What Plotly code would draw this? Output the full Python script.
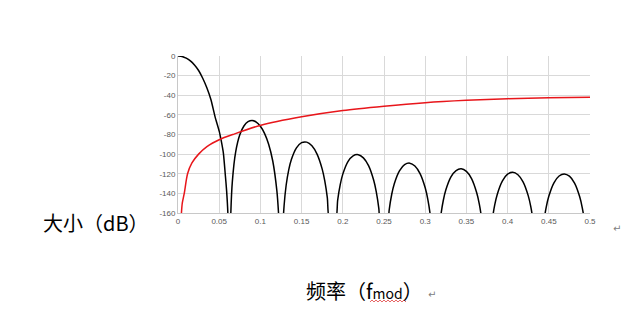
import plotly.graph_objects as go

# ---- data ----
freq_black = [
    0, 0.005, 0.01, 0.015, 0.02, 0.025, 0.03, 0.035, 0.04, 0.045, 0.05, 0.0525, 0.055, 0.0575, 0.059, 0.0605, 0.0625,
    0.064, 0.066, 0.07, 0.075, 0.08, 0.085, 0.09, 0.095, 0.1, 0.105, 0.11, 0.115, 0.12, 0.122, 0.123, 0.125,
    0.12688, 0.12875, 0.13125, 0.134375, 0.1375, 0.14375, 0.15, 0.15625, 0.1625, 0.16875, 0.175, 0.178125, 0.18125, 0.18375,
    0.19125, 0.19375, 0.196875, 0.2, 0.20625, 0.2125, 0.21875, 0.225, 0.23125, 0.2375, 0.240625, 0.24375, 0.24625,
    0.25375, 0.25625, 0.259375, 0.2625, 0.26875, 0.275, 0.28125, 0.2875, 0.29375, 0.3, 0.303125, 0.30625, 0.30875,
    0.31625, 0.31875, 0.321875, 0.325, 0.33125, 0.3375, 0.34375, 0.35, 0.35625, 0.3625, 0.365625, 0.36875, 0.37125,
    0.37875, 0.38125, 0.384375, 0.3875, 0.39375, 0.4, 0.40625, 0.4125, 0.41875, 0.425, 0.428125, 0.43125, 0.43375,
    0.44125, 0.44375, 0.446875, 0.45, 0.45625, 0.4625, 0.46875, 0.475, 0.48125, 0.4875, 0.490625, 0.49375, 0.49625, 0.5,
]
db_black = [
    0, -0.5, -2.2, -5.0, -9.2, -14.8, -22.7, -32.4, -44.6, -62.0, -76.5, -86.5, -98.5, -122.0, -137.5, -160.0, -250,
    -162.8, -127.5, -97.7, -80.3, -71.3, -66.9, -65.7, -67.3, -71.6, -78.8, -89.9, -107.0, -137.4, -160.0, -177.9, -250,
    -181.9, -152.6, -131.7, -116.0, -105.7, -93.6, -88.3, -87.8, -91.5, -100.0, -115.3, -127.2, -144.6, -166.8,
    -168.3, -147.1, -131.0, -120.4, -107.6, -101.7, -100.6, -103.8, -111.8, -126.7, -138.4, -155.5, -177.6,
    -178.6, -157.2, -140.9, -130.1, -117.0, -110.7, -109.2, -112.1, -119.8, -134.3, -145.8, -162.8, -184.8,
    -185.4, -164.0, -147.5, -136.6, -123.2, -116.7, -115.0, -117.6, -125.0, -139.4, -150.7, -167.6, -189.5,
    -189.9, -168.3, -151.8, -140.8, -127.2, -120.4, -118.5, -121.0, -128.2, -142.3, -153.6, -170.4, -192.2,
    -192.4, -170.8, -154.1, -143.0, -129.2, -122.3, -120.2, -122.5, -129.5, -143.5, -154.7, -171.4, -193.1, -250,
]

freq_red = [0.0038, 0.0052, 0.0076, 0.0116, 0.0169, 0.025, 0.0351, 0.0512, 0.0665, 0.0996,
            0.15, 0.2, 0.25, 0.3, 0.35, 0.4, 0.45, 0.5]
db_red = [-165, -150, -140, -120, -109, -100, -92.3, -84.8, -80, -70.8,
          -62, -55.6, -51.2, -47.6, -45.2, -43.5, -42.5, -42.1]

x_tickvals = [0, 0.05, 0.1, 0.15, 0.2, 0.25, 0.3, 0.35, 0.4, 0.45, 0.5]
x_ticktext = ["0", "0.05", "0.1", "0.15", "0.2", "0.25", "0.3", "0.35", "0.4", "0.45", "0.5"]
y_tickvals = [0, -20, -40, -60, -80, -100, -120, -140, -160]
y_ticktext = ["0", "-20", "-40", "-60", "-80", "-100", "-120", "-140", "-160"]

y_title = "大小（dB）"
x_title = "频率（f<span style=\"font-size:14px\">mod</span>）"

# ---- figure ----
W, H = 642, 314
ML, MR, MT, MB = 178, 52, 56, 101
pw, ph = W - ML - MR, H - MT - MB


def px(xp):
    return (xp - ML) / pw


def py(yp):
    return (H - MB - yp) / ph


fig = go.Figure()
fig.add_trace(go.Scatter(x=freq_black, y=db_black, mode="lines",
                         line=dict(color="#000000", width=1.5, shape="spline", smoothing=0.6),
                         hoverinfo="skip", showlegend=False))
fig.add_trace(go.Scatter(x=freq_red, y=db_red, mode="lines",
                         line=dict(color="#e8161b", width=1.5, shape="spline", smoothing=0.8),
                         hoverinfo="skip", showlegend=False))

tick_font = dict(family="Liberation Sans, Arial, sans-serif", size=8, color="#595959")
fig.update_xaxes(range=[0, 0.5], tickmode="array", tickvals=x_tickvals, ticktext=x_ticktext,
                 showgrid=True, gridcolor="#d9d9d9", gridwidth=1, zeroline=False,
                 showline=True, linecolor="#c8c8c8", linewidth=1, ticks="", tickfont=tick_font,
                 fixedrange=True)
fig.update_yaxes(range=[-160, 0], tickmode="array", tickvals=y_tickvals, ticktext=y_ticktext,
                 showgrid=True, gridcolor="#d9d9d9", gridwidth=1, zeroline=False,
                 showline=True, linecolor="#c8c8c8", linewidth=1, ticks="", tickfont=tick_font,
                 fixedrange=True)

cjk = "Noto Sans CJK SC, sans-serif"
annotations = [
    dict(text=y_title, x=px(151), y=py(222), xanchor="right", yanchor="middle",
         font=dict(family=cjk, size=20, color="#000000")),
    dict(text=x_title, x=px(304), y=py(290), xanchor="left", yanchor="middle",
         font=dict(family=cjk, size=20, color="#000000")),
    dict(text="↵", x=px(617), y=py(228), xanchor="center", yanchor="middle",
         font=dict(family="DejaVu Sans, sans-serif", size=10, color="#808080")),
    dict(text="↵", x=px(432), y=py(294), xanchor="center", yanchor="middle",
         font=dict(family="DejaVu Sans, sans-serif", size=10, color="#808080")),
]
for a in annotations:
    a.update(xref="paper", yref="paper", showarrow=False)

# spell-check style wavy underline under "mod"
pts = []
x0, x1, yb = 370, 406, 301
k = 0
xx = x0
while xx <= x1:
    pts.append((px(xx), py(yb + (1 if k % 2 == 0 else -1))))
    xx += 2
    k += 1
path = "M " + " L ".join(f"{a:.4f},{b:.4f}" for a, b in pts)

fig.update_layout(
    width=W, height=H,
    margin=dict(l=ML, r=MR, t=MT, b=MB, pad=0),
    paper_bgcolor="#ffffff", plot_bgcolor="#ffffff",
    annotations=annotations,
    shapes=[dict(type="path", path=path, xref="paper", yref="paper",
                 line=dict(color="#e04040", width=0.8))],
)

fig.write_html("out.html", config={"displayModeBar": False})
